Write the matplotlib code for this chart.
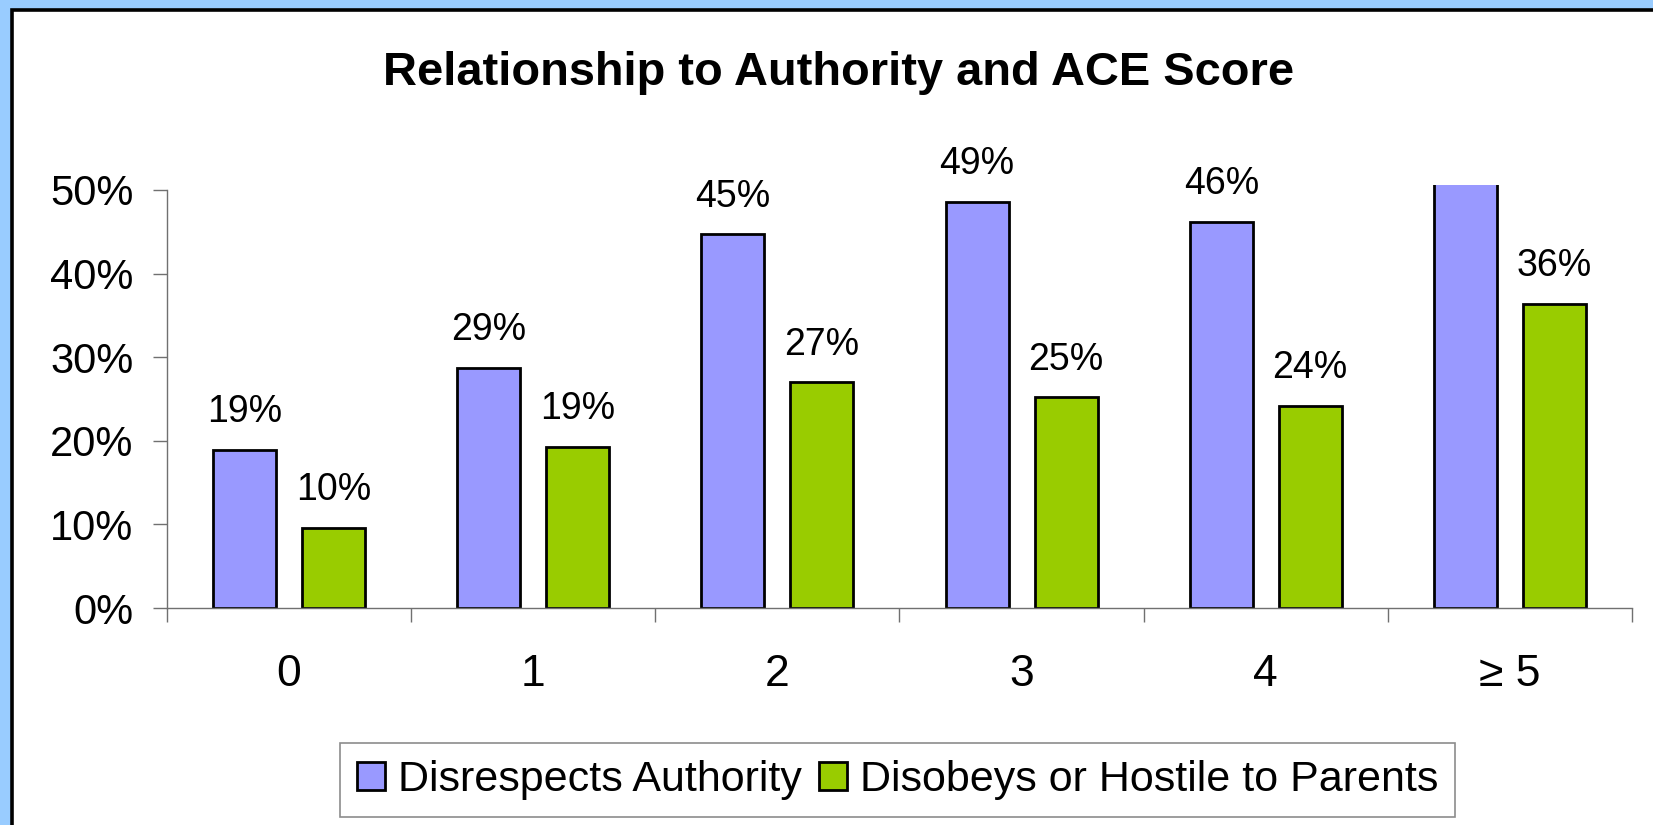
import numpy as np
import matplotlib.pyplot as plt
from matplotlib.patches import Rectangle

plt.rcParams['font.family'] = ['Liberation Sans', 'DejaVu Sans']

categorias = ['0', '1', '2', '3', '4', '\u2265 5']
desrespeita = [18.9, 28.7, 44.7, 48.6, 46.2, 55.0]   # ultimo fica cortado no topo
desobedece = [9.6, 19.3, 27.0, 25.2, 24.2, 36.4]
nomes = ['Disrespects Authority', 'Disobeys or Hostile to Parents']
yticks = [0, 10, 20, 30, 40, 50]

fig = plt.figure(figsize=(16.53, 8.25), dpi=100)
fig.patch.set_facecolor('#99CCFF')

# moldura branca com borda preta (sai pela direita e por baixo)
moldura = Rectangle((0.00696, -0.05), 1.1, 0.98848 + 0.05, transform=fig.transFigure,
                    facecolor='white', edgecolor='black', linewidth=2.6, zorder=-5)
fig.patches.append(moldura)

ax = fig.add_axes([0.101, 0.263, 0.8863, 0.5128])
ax.set_facecolor('none')

x = np.arange(len(categorias))
larg = 0.258
desl = 0.182
b1 = ax.bar(x - desl, desrespeita, larg, color='#9999FF', edgecolor='black', linewidth=2.0, label=nomes[0])
b2 = ax.bar(x + desl, desobedece, larg, color='#99CC00', edgecolor='black', linewidth=2.0, label=nomes[1])

for barras, vals in [(b1, desrespeita), (b2, desobedece)]:
    for b, v in zip(barras, vals):
        ax.annotate(f'{v:.0f}%', (b.get_x() + b.get_width() / 2, v), xytext=(0, 20),
                    textcoords='offset points', ha='center', va='baseline', fontsize=27)

ax.set_xlim(-0.5, len(categorias) - 0.5)
ax.set_ylim(0, 50.6)
ax.set_yticks(yticks)
ax.set_yticklabels([f'{t}%' for t in yticks], fontsize=30)
ax.set_xticks(x)
ax.set_xticklabels(categorias, fontsize=32)
ax.set_xticks(np.arange(len(categorias) + 1) - 0.5, minor=True)
ax.tick_params(axis='x', which='major', length=0, pad=33)
ax.tick_params(axis='x', which='minor', length=10, width=1, color='#707070', direction='out')
ax.tick_params(axis='y', length=10, width=1, color='#707070', pad=14)

for lado in ['top', 'right']:
    ax.spines[lado].set_visible(False)
ax.spines['left'].set_bounds(0, 50)
for lado in ['left', 'bottom']:
    ax.spines[lado].set_color('#707070')
    ax.spines[lado].set_linewidth(1)

fig.text(0.507, 0.897, 'Relationship to Authority and ACE Score', ha='center', va='baseline',
         fontsize=33.8, fontweight='bold')

leg = fig.legend(loc='center', bbox_to_anchor=(0.543, 0.0545), ncol=2, fontsize=31,
                 frameon=True, fancybox=False, edgecolor='#707070', handlelength=0.65,
                 handleheight=0.65, handletextpad=0.3, columnspacing=0.4, borderpad=0.4,
                 borderaxespad=0)
leg.get_frame().set_linewidth(1.2)
for h in leg.legend_handles:
    h.set_linewidth(2.0)

fig.savefig('out.png', dpi=100, facecolor=fig.get_facecolor())
